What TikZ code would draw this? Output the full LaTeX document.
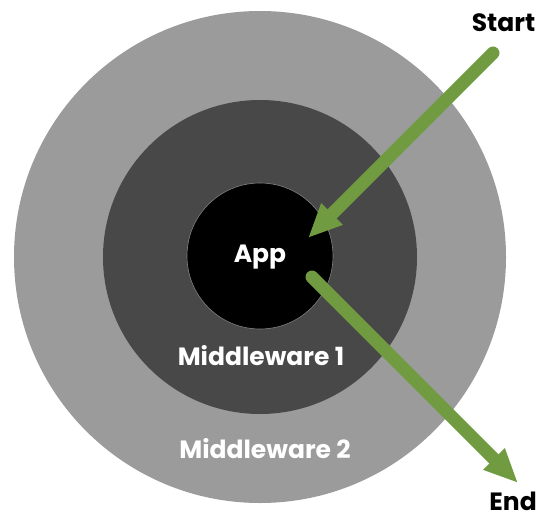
\documentclass[tikz,border=0pt]{standalone}
\usepackage{fontspec}
\setmainfont{Poppins}
\usetikzlibrary{arrows.meta}
\definecolor{outergray}{RGB}{155,155,155}
\definecolor{midgray}{RGB}{72,72,72}
\definecolor{ringline}{RGB}{130,130,130}
\definecolor{flowgreen}{RGB}{112,155,64}
\tikzset{
  ring/.style={circle, inner sep=0pt, draw=none},
  lbl/.style={text=white, font=\fontsize{25}{30}\selectfont\bfseries, anchor=base, inner sep=0pt},
  endlbl/.style={text=black, font=\fontsize{25}{30}\selectfont\bfseries, inner sep=0pt},
  flow/.style={draw=flowgreen, line width=13pt, line cap=round,
    -{Triangle[length=34pt,width=28pt]}, fill=flowgreen}
}
\begin{document}
\begin{tikzpicture}[x=1pt,y=-1pt]
  \useasboundingbox (0,0) rectangle (543,519);
  \node[ring, fill=outergray, minimum size=492pt] (mw2) at (260,257) {};
  \node[ring, fill=midgray, minimum size=314pt] (mw1) at (260,257) {};
  \node[ring, fill=black, draw=ringline, line width=0.6pt, minimum size=146pt] (app) at (260,256) {};
  \node[lbl] (applbl) at (260,262) {App};
  \node[lbl] (mw1lbl) at (261,365) {Middleware 1};
  \node[lbl] (mw2lbl) at (265,458) {Middleware 2};
  \node[endlbl, anchor=base] (start) at (503.5,32) {Start};
  \node[endlbl, anchor=base east, text depth=0pt] (end) at (537,510) {End};
  \coordinate (s1) at (493,53);
  \coordinate (s2) at (308,238);
  \coordinate (e1) at (312,277);
  \coordinate (e2) at (518,483);
  \draw[flow] (s1) -- (s2);
  \draw[flow] (e1) -- (e2);
\end{tikzpicture}
\end{document}
